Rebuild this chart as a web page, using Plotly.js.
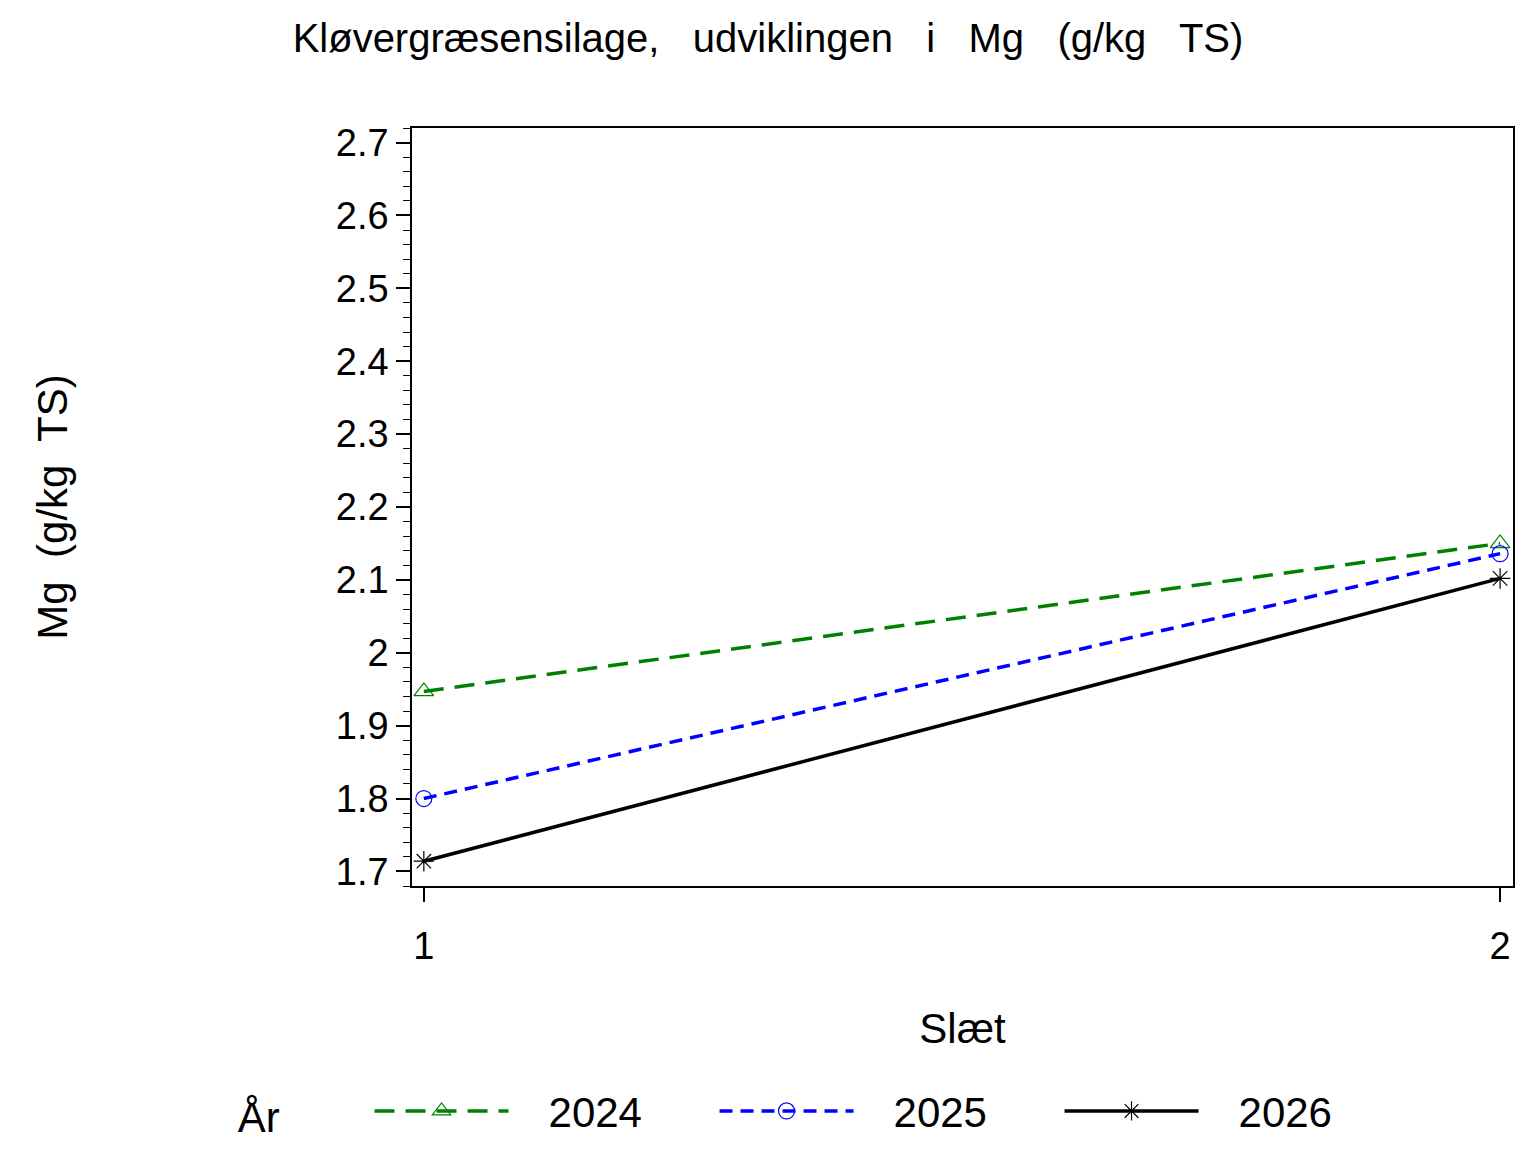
<!DOCTYPE html>
<html>
<head>
<meta charset="utf-8">
<script src="https://cdn.plot.ly/plotly-3.0.1.min.js"></script>
<style>
  body { margin: 0; background: #fff; }
  #plot { width: 1536px; height: 1152px; }
</style>
</head>
<body>
<div id="plot"></div>
<script>
// Slæt (cut) on the x axis
var slaet = [1, 2];

// Mg (g/kg TS) per year
var aar = ['2024', '2025', '2026'];
var mg2024 = [1.947, 2.150];
var mg2025 = [1.800, 2.136];
var mg2026 = [1.714, 2.102];

var yTicks = [1.7, 1.8, 1.9, 2.0, 2.1, 2.2, 2.3, 2.4, 2.5, 2.6, 2.7];

var FONT = 'Liberation Sans, Arial, sans-serif';
var SP = '\u00a0\u00a0 ';
var PAD = '\u00a0\u00a0\u00a0';

function drawDia(){
  var PLOT = document.getElementById('plot');

  var trace1 = {
    x: slaet,
    y: mg2024,
    name: PAD + aar[0],
    type: 'scatter',
    mode: 'lines+markers',
    line: {color: '#008000', width: 3.5, dash: '20px,11px'},
    marker: {symbol: 'triangle-up-open', size: 17, color: '#008000', line: {width: 1.2}}
  }

  var trace2 = {
    x: slaet,
    y: mg2025,
    name: PAD + aar[1],
    type: 'scatter',
    mode: 'lines+markers',
    line: {color: '#0000ff', width: 3.5, dash: '13px,8px'},
    marker: {symbol: 'circle-open', size: 16, color: '#0000ff', line: {width: 1.2}}
  }

  var trace3 = {
    x: slaet,
    y: mg2026,
    name: PAD + aar[2],
    type: 'scatter',
    mode: 'lines+markers',
    line: {color: '#000000', width: 3.5},
    marker: {symbol: 'asterisk-open', size: 17, color: '#000000', line: {width: 1.2}}
  }

  var data = [trace1, trace2, trace3];

  var layout = {
    width: 1536,
    height: 1152,
    paper_bgcolor: '#ffffff',
    plot_bgcolor: '#ffffff',
    font: {family: FONT, color: '#000000'},
    margin: {l: 412, r: 23, t: 128, b: 266, autoexpand: false},
    title: {
      text: 'Kløvergræsensilage,' + SP + 'udviklingen' + SP + 'i' + SP + 'Mg' + SP + '(g/kg' + SP + 'TS)',
      font: {size: 40, family: FONT},
      x: 0.5,
      xanchor: 'center',
      y: 1 - 38 / 1152,
      yanchor: 'middle'
    },
    xaxis: {
      title: {text: 'Slæt', font: {size: 42}, standoff: 47},
      range: [0.989, 2.012],
      tickvals: slaet,
      ticktext: ['1', '2'],
      ticks: 'outside',
      ticklen: 14,
      tickwidth: 1.5,
      tickcolor: '#000',
      tickfont: {size: 38},
      ticklabelstandoff: 12,
      showgrid: false,
      zeroline: false,
      showline: true,
      linecolor: '#000',
      linewidth: 1.5,
      mirror: true
    },
    yaxis: {
      title: {text: 'Mg\u00a0 (g/kg\u00a0 TS)', font: {size: 42}, standoff: 255},
      range: [1.68, 2.72],
      tickvals: yTicks,
      ticks: 'outside',
      ticklen: 14,
      tickwidth: 1.5,
      tickcolor: '#000',
      tickfont: {size: 38},
      minor: {dtick: 0.02, tick0: 1.7, ticks: 'outside', ticklen: 7, tickwidth: 1, tickcolor: '#000'},
      showgrid: false,
      zeroline: false,
      showline: true,
      linecolor: '#000',
      linewidth: 1.5,
      mirror: true
    },
    showlegend: true,
    legend: {
      orientation: 'h',
      x: -0.16,
      xanchor: 'left',
      y: -0.297,
      yanchor: 'middle',
      title: {text: 'År\u00a0\u00a0\u00a0\u00a0\u00a0\u00a0\u00a0', font: {size: 42}, side: 'left'},
      font: {size: 42},
      itemwidth: 134,
      entrywidth: 196,
      bgcolor: 'rgba(0,0,0,0)'
    }
  }

  Plotly.newPlot(PLOT, data, layout, {displaylogo: false, displayModeBar: false});
}

drawDia();
</script>
</body>
</html>
